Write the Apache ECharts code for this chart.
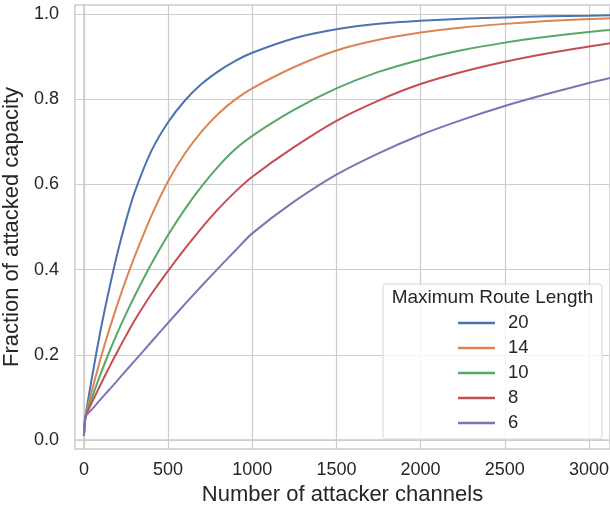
<!DOCTYPE html>
<html>
<head>
<meta charset="utf-8">
<script src="https://cdn.jsdelivr.net/npm/echarts@6/dist/echarts.min.js"></script>
<style>html,body{margin:0;padding:0;background:#fff}#c{width:610px;height:510px}</style>
</head>
<body>
<div id="c"></div>
<script>
const xValues = [0, 10, 50, 100, 150, 200, 250, 300, 400, 500, 600, 700, 800, 900, 1000, 1250, 1500, 1750, 2000, 2250, 2500, 2750, 3000, 3150];
const len20 = [0.01, 0.056, 0.152, 0.26, 0.354, 0.44, 0.515, 0.58, 0.678, 0.746, 0.797, 0.836, 0.866, 0.89, 0.909, 0.943, 0.964, 0.977, 0.984, 0.989, 0.992, 0.9945, 0.996, 0.997];
const len14 = [0.01, 0.056, 0.12, 0.1925, 0.2585, 0.3195, 0.3765, 0.4295, 0.5255, 0.6075, 0.6725, 0.7245, 0.7665, 0.7995, 0.8255, 0.8755, 0.9143, 0.9393, 0.9563, 0.9683, 0.9768, 0.9833, 0.988, 0.9903];
const len10 = [0.01, 0.056, 0.102, 0.156, 0.206, 0.2525, 0.296, 0.337, 0.413, 0.481, 0.542, 0.596, 0.643, 0.683, 0.714, 0.7753, 0.8253, 0.864, 0.8928, 0.9153, 0.9328, 0.9465, 0.9578, 0.9635];
const len8 = [0.01, 0.056, 0.09, 0.131, 0.1705, 0.2085, 0.245, 0.28, 0.342, 0.397, 0.449, 0.498, 0.543, 0.583, 0.618, 0.688, 0.7493, 0.7968, 0.8355, 0.8643, 0.8878, 0.9073, 0.9238, 0.9328];
const len6 = [0.01, 0.055, 0.073, 0.096, 0.118, 0.14, 0.163, 0.185, 0.23, 0.275, 0.319, 0.362, 0.404, 0.445, 0.485, 0.56, 0.623, 0.673, 0.716, 0.752, 0.784, 0.812, 0.838, 0.852];
const seriesNames = ['20', '14', '10', '8', '6'];
const seriesValues = [len20, len14, len10, len8, len6];
const colors = ['#4c72b0', '#dd8452', '#55a868', '#c44e52', '#8172b3'];
const xTicks = [0, 500, 1000, 1500, 2000, 2500, 3000];
const yTicks = [0, 0.2, 0.4, 0.6, 0.8, 1.0];
const legendTitle = 'Maximum Route Length';
const xTitle = 'Number of attacker channels';
const yTitle = 'Fraction of attacked capacity';

const FONT = "'Liberation Sans', Arial, sans-serif";
const TXT = '#262626';
const GRIDC = '#cccccc';

const chart = echarts.init(document.getElementById('c'), null, {renderer: 'canvas'});
chart.setOption({
  animation: false,
  backgroundColor: '#ffffff',
  grid: {left: 75, right: 0, top: 5, bottom: 61, containLabel: false, outerBoundsMode: 'none',
    show: true, borderColor: GRIDC, borderWidth: 1.5, backgroundColor: 'transparent'},
  xAxis: {
    type: 'value', min: -53, max: 3125,
    name: xTitle, nameLocation: 'middle', nameGap: 34,
    nameTextStyle: {fontFamily: FONT, fontSize: 22, color: TXT},
    axisLine: {show: true, lineStyle: {color: GRIDC, width: 1.5}},
    axisTick: {show: false, customValues: xTicks},
    axisLabel: {customValues: xTicks, margin: 12, fontFamily: FONT, fontSize: 18, color: TXT,
      formatter: v => String(Math.round(v))},
    splitLine: {show: true, lineStyle: {color: GRIDC, width: 1.2}}
  },
  yAxis: {
    type: 'value', min: -0.0211, max: 1.0211,
    name: yTitle, nameLocation: 'middle', nameGap: 47,
    nameTextStyle: {fontFamily: FONT, fontSize: 22, color: TXT},
    axisLine: {show: true, lineStyle: {color: GRIDC, width: 1.5}},
    axisTick: {show: false, customValues: yTicks},
    axisLabel: {customValues: yTicks, margin: 16, fontFamily: FONT, fontSize: 18, color: TXT,
      formatter: v => Number(v).toFixed(1)},
    splitLine: {show: true, lineStyle: {color: GRIDC, width: 1.2}}
  },
  legend: {
    orient: 'vertical', left: 458, top: 313, padding: 0, itemGap: 5,
    itemWidth: 37, itemHeight: 2.5, icon: 'rect',
    textStyle: {fontFamily: FONT, fontSize: 18.5, color: TXT, lineHeight: 20, padding: [0, 0, 0, 8]},
    data: seriesNames
  },
  graphic: [
    {type: 'rect', z: 3, shape: {x: 383, y: 284, width: 219, height: 155, r: 3},
     style: {fill: 'rgba(255,255,255,0.8)', stroke: '#d6d6d6', lineWidth: 1}},
    {type: 'text', z: 4, x: 492.5, y: 298,
     style: {text: legendTitle, font: '19px ' + FONT, fill: TXT, align: 'center', verticalAlign: 'middle'}}
  ],
  series: seriesNames.map((n, i) => ({
    name: n, type: 'line', showSymbol: false, symbol: 'none',
    smooth: 0.25,
    color: colors[i],
    lineStyle: {width: 2, color: colors[i]},
    data: xValues.map((x, j) => [x, seriesValues[i][j]])
  }))
});
</script>
</body>
</html>
